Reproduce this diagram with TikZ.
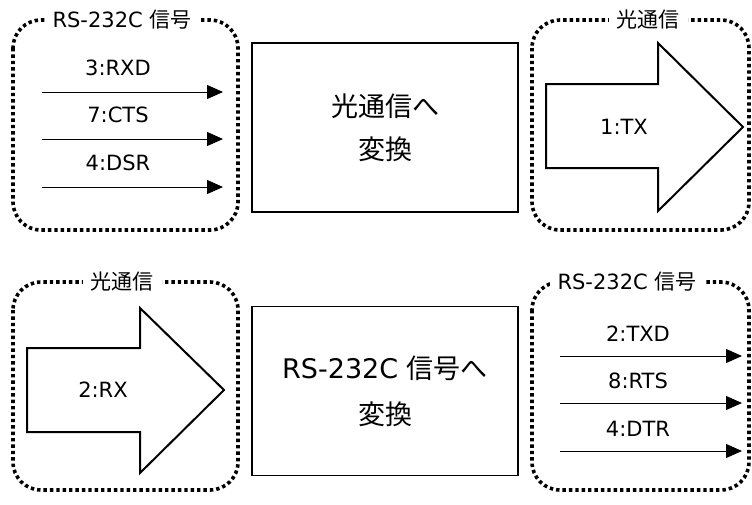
\documentclass[tikz,border=0pt]{standalone}
\usepackage{fontspec}
\setmainfont{DejaVu Sans}
\newfontfamily\jp{Noto Sans CJK JP}
\usetikzlibrary{arrows.meta}
\tikzset{
  group/.style={line width=3.6pt,dash pattern=on 3.4pt off 3pt,rounded corners=28pt},
  glabel/.style={fill=white,inner xsep=8pt,inner ysep=4pt,font=\fontsize{21}{25}\selectfont},
  siglabel/.style={font=\fontsize{21}{25}\selectfont},
  sig/.style={-{Triangle[length=16pt,width=14pt]},line width=1pt},
  conv/.style={draw,line width=1.5pt,minimum width=266pt,minimum height=169pt,align=center},
  bigarrow/.style={line width=2pt,line join=miter}
}
\begin{document}
\begin{tikzpicture}[x=1pt,y=-1pt]
	\useasboundingbox (0,0) rectangle (752,504);
	% upper row
	\draw[group] (13,20) rectangle (238,230);
	\node[glabel] (rsin) at (122,20) {RS-232C {\jp 信号}};
	\coordinate (rxdA) at (42,92);  \coordinate (rxdB) at (223,92);
	\coordinate (ctsA) at (42,139); \coordinate (ctsB) at (223,139);
	\coordinate (dsrA) at (42,187); \coordinate (dsrB) at (223,187);
	\draw[sig] (rxdA) -- (rxdB);
	\draw[sig] (ctsA) -- (ctsB);
	\draw[sig] (dsrA) -- (dsrB);
	\node[siglabel] (rxd) at (118,68) {3:RXD};
	\node[siglabel] (cts) at (118,115) {7:CTS};
	\node[siglabel] (dsr) at (118,163) {4:DSR};
	\node[conv,font=\fontsize{27}{43}\selectfont] (toopt) at (385,127.5) {{\jp 光通信へ}\\{\jp 変換}};
	\draw[group] (532,20) rectangle (749,230);
	\node[glabel] (optout) at (648,20) {\jp 光通信};
	\draw[bigarrow] (546,84) -- (658,84) -- (658,43) -- (743,127) -- (658,211) -- (658,168) -- (546,168) -- cycle;
	\node[siglabel] (tx) at (624,127) {1:TX};
	% lower row
	\draw[group] (13,282) rectangle (238,490);
	\node[glabel] (optin) at (122,282) {\jp 光通信};
	\draw[bigarrow] (27,348) -- (140,348) -- (140,308) -- (224,390) -- (140,473) -- (140,432) -- (27,432) -- cycle;
	\node[siglabel] (rx) at (103,390) {2:RX};
	\node[conv,font=\fontsize{27}{46}\selectfont] (toser) at (385,391) {RS-232C {\jp 信号へ}\\{\jp 変換}};
	\draw[group] (532,282) rectangle (749,490);
	\node[glabel] (rsout) at (627,282) {RS-232C {\jp 信号}};
	\coordinate (txdA) at (560,356); \coordinate (txdB) at (742,356);
	\coordinate (rtsA) at (560,403); \coordinate (rtsB) at (742,403);
	\coordinate (dtrA) at (560,451); \coordinate (dtrB) at (742,451);
	\draw[sig] (txdA) -- (txdB);
	\draw[sig] (rtsA) -- (rtsB);
	\draw[sig] (dtrA) -- (dtrB);
	\node[siglabel] (txd) at (638,334) {2:TXD};
	\node[siglabel] (rts) at (638,381) {8:RTS};
	\node[siglabel] (dtr) at (638,429) {4:DTR};
\end{tikzpicture}
\end{document}
